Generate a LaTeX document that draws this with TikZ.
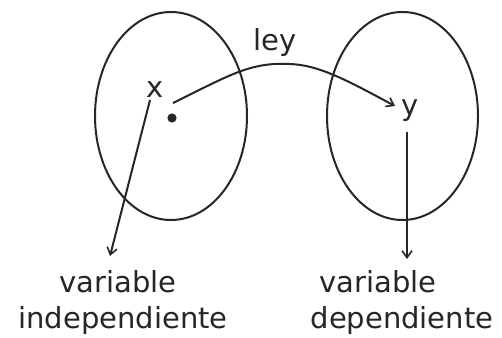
\documentclass[tikz,border=0pt]{standalone}
\usepackage{fontspec}
\setmainfont{DejaVu Sans}
\usetikzlibrary{arrows.meta}
\begin{document}
\begin{tikzpicture}[x=1pt,y=-1pt,
  line width=2pt, color=black!85,
  lbl/.style={font=\fontsize{29}{30}\selectfont, inner sep=0pt, anchor=base},
  arr/.style={-{Straight Barb[length=7pt,width=10pt,line width=1.6pt]}}]
\useasboundingbox (0,0) rectangle (502,337);
\fill[white] (0,0) rectangle (502,337);
% sets
\draw (171,116) ellipse [x radius=76, y radius=104];
\draw (402.5,116) ellipse [x radius=75.5, y radius=104];
% elements
\node[lbl] (x) at (155,97) {x};
\node[lbl] (y) at (410,115) {y};
\node[lbl] (ley) at (275,50) {ley};
\fill (172,118) circle (4.6);
\coordinate (s) at (173,103);
\coordinate (e) at (395,106);
\draw[arr] (s) .. controls (230,75) and (250,62) .. (290,64)
           .. controls (320,65) and (350,82) .. (e);
% labels
\node[lbl] (lv) at (118,292) {variable};
\node[lbl] (li) at (123,328) {independiente};
\node[lbl] (rv) at (378,292) {variable};
\node[lbl] (rd) at (402,328) {dependiente};
\coordinate (xs) at (150,100);
\coordinate (xe) at (110,256);
\coordinate (ys) at (407,132);
\coordinate (ye) at (407,259);
\draw[arr] (xs) -- (xe);
\draw[arr] (ys) -- (ye);
\end{tikzpicture}
\end{document}
